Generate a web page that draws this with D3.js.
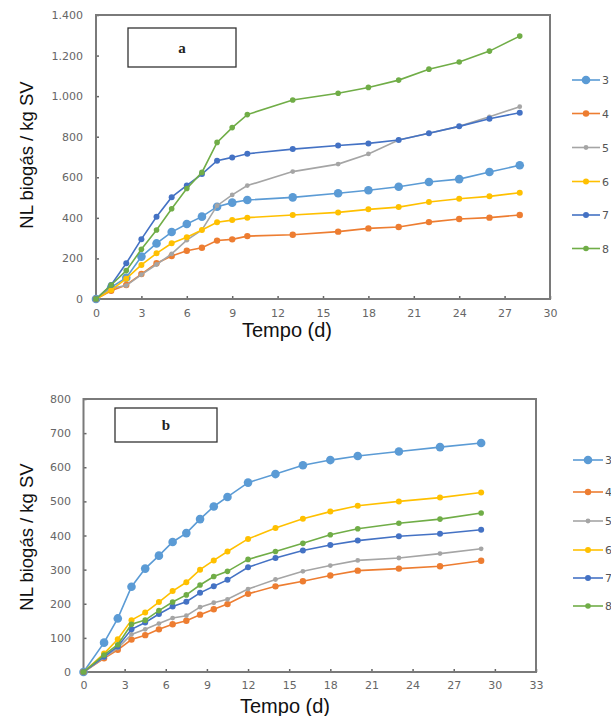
<!DOCTYPE html>
<html><head><meta charset="utf-8">
<script src="https://cdn.jsdelivr.net/npm/d3@7/dist/d3.min.js"></script>
<style>
html,body{margin:0;padding:0;background:#fff;}
svg{display:block;}
</style></head>
<body>
<svg id="c" width="611" height="716"></svg>
<script>
// ---------- DATA ----------
const seriesNames = ["3", "4", "5", "6", "7", "8"];
const seriesColors = ["#5B9BD5", "#ED7D31", "#A5A5A5", "#FFC000", "#4472C4", "#70AD47"];

// Chart a
const daysA = [0,1,2,3,4,5,6,7,8,9,10,13,16,18,20,22,24,26,28];
const a3 = [0,57,105,209,274,330,370,406,455,475,488,501,521,536,553,577,591,626,659];
const a4 = [0,41,69,123,176,212,238,253,288,294,310,317,332,348,355,379,394,401,414];
const a5 = [0,53,66,120,170,222,290,340,460,513,559,628,665,715,784,817,851,898,948];
const a6 = [0,44,100,168,225,275,304,340,378,389,401,414,427,442,453,478,494,506,524];
const a7 = [0,69,176,295,405,502,560,616,682,698,716,739,757,767,784,817,851,889,918];
const a8 = [0,69,140,245,340,445,545,624,772,845,909,981,1014,1043,1079,1133,1168,1222,1296];
const xTicksA = [0,3,6,9,12,15,18,21,24,27,30];
const yTicksA = [0,200,400,600,800,1000,1200,1400];

// Chart b
const daysB = [0,1.5,2.5,3.5,4.5,5.5,6.5,7.5,8.5,9.5,10.5,12,14,16,18,20,23,26,29];
const b3 = [0,86,157,250,303,341,381,407,448,485,513,555,580,606,621,633,646,659,671];
const b4 = [0,40,65,95,108,125,140,150,168,184,199,229,251,266,283,297,303,310,326];
const b5 = [0,42,70,110,125,142,158,165,190,203,213,243,271,295,312,327,334,347,361];
const b6 = [0,54,96,152,174,205,237,263,300,327,353,390,422,449,470,487,500,511,526];
const b7 = [0,45,75,125,145,170,192,206,232,251,270,307,334,356,372,385,398,405,417];
const b8 = [0,50,80,140,152,180,205,226,255,280,295,330,353,377,402,420,436,448,466];
const xTicksB = [0,3,6,9,12,15,18,21,24,27,30,33];
const yTicksB = [0,100,200,300,400,500,600,700,800];

// ---------- DRAW ----------
const svg = d3.select("#c");
const locale = d3.formatLocale({decimal: ",", thousands: ".", grouping: [3], currency: ["", ""]});
const fmt = locale.format(",d");
const markerR = [4.3, 3.2, 2.4, 3.0, 3.0, 2.8];

function drawChart(cfg) {
  const x = d3.scaleLinear().domain(cfg.xDomain).range([cfg.left, cfg.right]);
  const y = d3.scaleLinear().domain(cfg.yDomain).range([cfg.bottom, cfg.top]);
  const g = svg.append("g");

  // x axis
  const xa = g.append("g").attr("transform", `translate(0,${cfg.bottom})`)
    .call(d3.axisBottom(x).tickValues(cfg.xTicks).tickSizeInner(-3).tickSizeOuter(0).tickPadding(cfg.xPad));
  xa.select(".domain").remove();
  xa.selectAll("line").attr("stroke", "#666").attr("stroke-width", 1.5);
  xa.selectAll("text").attr("font-family", "DejaVu Sans, sans-serif").attr("font-size", "11px").attr("fill", "#666");

  // y axis
  const ya = g.append("g").attr("transform", `translate(${cfg.left},0)`)
    .call(d3.axisLeft(y).tickValues(cfg.yTicks).tickFormat(fmt).tickSizeInner(-3).tickSizeOuter(0).tickPadding(cfg.yPad));
  ya.select(".domain").remove();
  ya.selectAll("line").attr("stroke", "#666").attr("stroke-width", 1.5);
  ya.selectAll("text").attr("font-family", "DejaVu Sans, sans-serif").attr("font-size", "11px").attr("fill", "#666");

  // frame
  g.append("rect").attr("x", cfg.left).attr("y", cfg.top)
    .attr("width", cfg.right - cfg.left).attr("height", cfg.bottom - cfg.top)
    .attr("fill", "none").attr("stroke", "#7a7a7a").attr("stroke-width", 2);

  // series
  const line = d3.line().x(d => x(d[0])).y(d => y(d[1]));
  cfg.series.forEach((vals, i) => {
    const pts = cfg.days.map((d, j) => [d, vals[j]]);
    g.append("path").datum(pts).attr("d", line)
      .attr("fill", "none").attr("stroke", seriesColors[i]).attr("stroke-width", 1.6);
    g.selectAll(null).data(pts).enter().append("circle")
      .attr("cx", d => x(d[0])).attr("cy", d => y(d[1])).attr("r", markerR[i])
      .attr("fill", seriesColors[i]);
  });

  // label box
  g.append("rect").attr("x", cfg.box[0]).attr("y", cfg.box[1]).attr("width", cfg.box[2]).attr("height", cfg.box[3])
    .attr("fill", "#fff").attr("stroke", "#333").attr("stroke-width", 1.3);
  g.append("text").attr("x", cfg.box[0] + cfg.box[2] / 2).attr("y", cfg.box[1] + cfg.box[3] / 2 + 5)
    .attr("text-anchor", "middle").attr("font-family", "Liberation Serif, serif").attr("font-weight", "bold")
    .attr("font-size", "15px").attr("fill", "#222").text(cfg.label);

  // axis titles
  g.append("text").attr("x", cfg.xTitle[0]).attr("y", cfg.xTitle[1]).attr("text-anchor", "middle")
    .attr("font-family", "Liberation Sans, Arial, sans-serif").attr("font-size", "20px").attr("fill", "#111").text("Tempo (d)");
  g.append("text").attr("transform", `translate(${cfg.yTitle[0]},${cfg.yTitle[1]}) rotate(-90)`).attr("text-anchor", "middle")
    .attr("font-family", "Liberation Sans, Arial, sans-serif").attr("font-size", "18.5px").attr("fill", "#111").text("NL biogás / kg SV");

  // legend
  seriesNames.forEach((n, i) => {
    const ly = cfg.legendY[i];
    g.append("line").attr("x1", cfg.legendX[0]).attr("x2", cfg.legendX[1]).attr("y1", ly).attr("y2", ly)
      .attr("stroke", seriesColors[i]).attr("stroke-width", 1.6);
    g.append("circle").attr("cx", (cfg.legendX[0] + cfg.legendX[1]) / 2).attr("cy", ly).attr("r", markerR[i])
      .attr("fill", seriesColors[i]);
    g.append("text").attr("x", cfg.legendX[1] + 2).attr("y", ly + 4)
      .attr("font-family", "DejaVu Sans, sans-serif").attr("font-size", "11px").attr("fill", "#555").text(n);
  });
}

drawChart({
  left: 96, right: 550, top: 15, bottom: 299,
  xDomain: [0, 30], yDomain: [0, 1400], xTicks: xTicksA, yTicks: yTicksA,
  xPad: 10, yPad: 13,
  days: daysA, series: [a3, a4, a5, a6, a7, a8],
  box: [128, 28, 108, 39], label: "a",
  xTitle: [287, 337], yTitle: [33, 155],
  legendX: [572, 600], legendY: [80, 113.5, 147.5, 181.5, 215, 248.5]
});

drawChart({
  left: 83.5, right: 536, top: 399, bottom: 672,
  xDomain: [0, 33], yDomain: [0, 800], xTicks: xTicksB, yTicks: yTicksB,
  xPad: 9, yPad: 12.5,
  days: daysB, series: [b3, b4, b5, b6, b7, b8],
  box: [115, 408, 102, 34], label: "b",
  xTitle: [285, 713], yTitle: [33, 537],
  legendX: [573, 603], legendY: [460, 492, 521, 550, 578, 606]
});
</script>
</body></html>
